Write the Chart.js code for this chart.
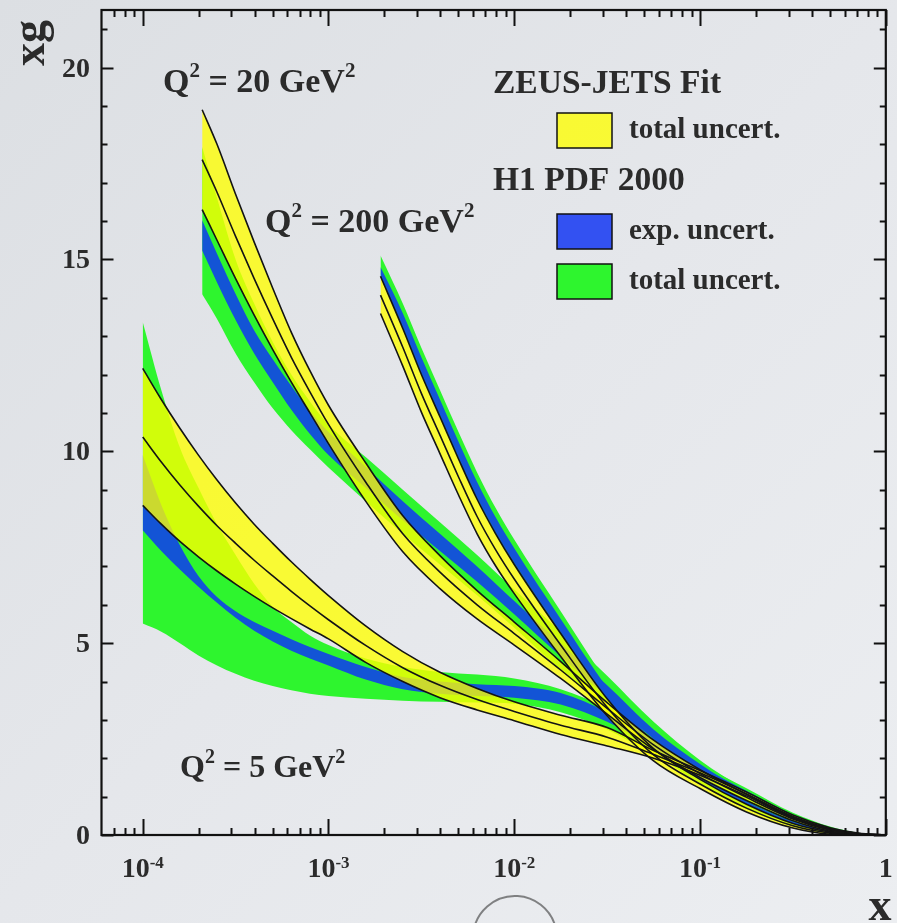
<!DOCTYPE html>
<html>
<head>
<meta charset="utf-8">
<title>xg</title>
<script src="https://cdn.jsdelivr.net/npm/chart.js@4/dist/chart.umd.min.js"></script>
<style>
html, body { margin: 0; padding: 0; }
body {
    width: 897px;
    height: 923px;
    overflow: hidden;
    background: linear-gradient(135deg, #dcdfe3 0%, #e5e7eb 50%, #eceef1 100%);
}
canvas { display: block; }
</style>
</head>
<body>
<canvas id="chart" width="897" height="923"></canvas>
<script>
'use strict';

// ---- data: log10(x) grids and xg curves for each Q2 ----

var lx5 = [-4, -3.9, -3.8, -3.7, -3.6, -3.5, -3.4, -3.3, -3.2, -3.1, -3.0, -2.8, -2.6, -2.4, -2.2, -2.0, -1.75, -1.5, -1.25, -1.0, -0.75, -0.5, -0.3, -0.15, 0];
var zeusUp5 = [12.16, 11.35, 10.6, 9.9, 9.25, 8.65, 8.1, 7.6, 7.12, 6.67, 6.24, 5.45, 4.78, 4.24, 3.82, 3.47, 3.12, 2.8, 2.2, 1.68, 1.12, 0.52, 0.19, 0.05, 0];
var zeusMid5 = [10.37, 9.72, 9.12, 8.57, 8.06, 7.6, 7.16, 6.75, 6.35, 5.97, 5.61, 4.94, 4.36, 3.9, 3.53, 3.22, 2.86, 2.55, 2.1, 1.62, 1.07, 0.48, 0.16, 0.04, 0];
var zeusLow5 = [8.59, 8.1, 7.65, 7.25, 6.88, 6.54, 6.22, 5.92, 5.64, 5.37, 5.11, 4.5, 4.0, 3.58, 3.26, 2.98, 2.62, 2.32, 2.0, 1.56, 1.02, 0.44, 0.13, 0.03, 0];
var h1TotUp5 = [13.37, 11.6, 10.1, 9.05, 8.1, 7.3, 6.55, 5.95, 5.55, 5.2, 4.95, 4.6, 4.38, 4.25, 4.18, 4.08, 3.8, 3.3, 2.55, 1.85, 1.22, 0.58, 0.22, 0.06, 0];
var h1ExpUp5 = [9.9, 8.6, 7.55, 6.75, 6.2, 5.83, 5.55, 5.32, 5.1, 4.9, 4.72, 4.38, 4.12, 4.0, 3.93, 3.88, 3.7, 3.2, 2.5, 1.8, 1.15, 0.53, 0.18, 0.05, 0];
var h1ExpLow5 = [7.94, 7.4, 6.92, 6.47, 6.05, 5.66, 5.32, 5.04, 4.8, 4.6, 4.42, 4.05, 3.8, 3.68, 3.62, 3.58, 3.4, 2.95, 2.3, 1.65, 1.05, 0.45, 0.14, 0.03, 0];
var h1TotLow5 = [5.51, 5.3, 5.0, 4.68, 4.42, 4.2, 4.02, 3.88, 3.77, 3.68, 3.62, 3.55, 3.5, 3.47, 3.45, 3.42, 3.2, 2.75, 2.1, 1.55, 0.98, 0.4, 0.12, 0.02, 0];

var lx20 = [-3.68, -3.6, -3.5, -3.4, -3.3, -3.2, -3.1, -3.0, -2.8, -2.6, -2.4, -2.2, -2.0, -1.75, -1.5, -1.25, -1.0, -0.75, -0.5, -0.3, -0.15, 0];
var zeusUp20 = [18.9, 18.0, 16.7, 15.45, 14.25, 13.1, 12.1, 11.2, 9.7, 8.32, 7.28, 6.37, 5.55, 4.52, 3.45, 2.47, 1.7, 1.06, 0.47, 0.16, 0.04, 0];
var zeusMid20 = [17.6, 16.75, 15.6, 14.5, 13.45, 12.45, 11.55, 10.7, 9.2, 7.85, 6.85, 6.0, 5.25, 4.3, 3.3, 2.35, 1.6, 0.98, 0.42, 0.13, 0.03, 0];
var zeusLow20 = [16.3, 15.5, 14.5, 13.55, 12.65, 11.8, 11.0, 10.2, 8.7, 7.38, 6.42, 5.63, 4.95, 4.08, 3.15, 2.23, 1.5, 0.9, 0.37, 0.1, 0.02, 0];
var h1TotUp20 = [17.93, 16.6, 15.0, 13.85, 12.85, 12.0, 11.3, 10.7, 9.85, 9.0, 8.15, 7.3, 6.4, 5.3, 4.15, 2.95, 1.95, 1.17, 0.53, 0.19, 0.05, 0];
var h1ExpUp20 = [16.02, 15.15, 14.1, 13.15, 12.4, 11.7, 11.05, 10.5, 9.6, 8.7, 7.85, 7.0, 6.1, 5.0, 3.9, 2.75, 1.85, 1.1, 0.48, 0.16, 0.04, 0];
var h1ExpLow20 = [15.23, 14.4, 13.42, 12.55, 11.8, 11.08, 10.45, 9.9, 9.05, 8.2, 7.4, 6.6, 5.75, 4.65, 3.6, 2.5, 1.7, 0.98, 0.4, 0.12, 0.02, 0];
var h1TotLow20 = [14.09, 13.45, 12.55, 11.8, 11.12, 10.55, 10.05, 9.58, 8.7, 7.85, 7.05, 6.25, 5.4, 4.3, 3.3, 2.3, 1.6, 0.9, 0.35, 0.09, 0.01, 0];

var lx200 = [-2.72, -2.6, -2.5, -2.4, -2.3, -2.2, -2.1, -2.0, -1.75, -1.5, -1.25, -1.0, -0.75, -0.5, -0.3, -0.15, 0];
var zeusUp200 = [14.56, 13.2, 12.0, 10.9, 9.8, 8.75, 7.85, 7.05, 5.25, 3.55, 2.25, 1.45, 0.8, 0.3, 0.08, 0.02, 0];
var zeusMid200 = [14.07, 12.71, 11.51, 10.42, 9.33, 8.3, 7.43, 6.67, 4.95, 3.33, 2.09, 1.33, 0.7, 0.24, 0.05, 0.01, 0];
var zeusLow200 = [13.59, 12.22, 11.02, 9.94, 8.86, 7.85, 7.01, 6.29, 4.65, 3.11, 1.93, 1.21, 0.6, 0.18, 0.02, 0, 0];
var h1TotUp200 = [15.1, 13.85, 12.7, 11.6, 10.5, 9.45, 8.52, 7.7, 5.83, 4.0, 2.55, 1.65, 0.93, 0.38, 0.12, 0.04, 0];
var h1ExpUp200 = [14.8, 13.6, 12.45, 11.35, 10.25, 9.2, 8.28, 7.47, 5.63, 3.85, 2.45, 1.58, 0.88, 0.35, 0.1, 0.03, 0];
var h1ExpLow200 = [14.58, 13.23, 12.03, 10.93, 9.83, 8.78, 7.88, 7.08, 5.28, 3.55, 2.25, 1.45, 0.8, 0.3, 0.08, 0.02, 0];
var h1TotLow200 = [14.56, 13.2, 12.0, 10.9, 9.8, 8.75, 7.85, 7.05, 5.25, 3.5, 2.2, 1.33, 0.68, 0.22, 0.04, 0.01, 0];

// axis ticks and labels
var xMajorTicks = [1e-4, 1e-3, 1e-2, 1e-1, 1];
var xTickBase = ['10', '10', '10', '10', '1'];
var xTickExp = ['-4', '-3', '-2', '-1', ''];
var yMajorTicks = [0, 5, 10, 15, 20];

// text
var qValues = ['5', '20', '200'];
var legendHeads = ['ZEUS-JETS Fit', 'H1 PDF 2000'];
var legendItems = ['total uncert.', 'exp. uncert.', 'total uncert.'];

var X_MIN = 6e-5, X_MAX = 1, Y_MIN = 0, Y_MAX = 21.5;

var YELLOW = 'rgba(255,255,0,0.78)';
var GREEN = '#2ef52e';
var BLUE = '#1354d6';
var BLUE_KEY = '#3351f2';
var INK = '#2b2b2b';
var SERIF = '"Liberation Serif", "Times New Roman", serif';

var pts = function(lx, ys) {
    return lx.map(function(l, i) {
        return { x: Math.pow(10, l), y: ys[i] };
    });
};

var datasets = [];

// filled band: lower edge dataset followed by upper edge filled down to it
var addBand = function(label, lx, lo, hi, color, order) {
    datasets.push({
        label: label + ' lo', data: pts(lx, lo), order: order,
        borderWidth: 0, borderColor: 'rgba(0,0,0,0)', fill: false
    });
    datasets.push({
        label: label + ' hi', data: pts(lx, hi), order: order,
        borderWidth: 0, borderColor: 'rgba(0,0,0,0)', fill: '-1', backgroundColor: color
    });
};

var addLine = function(label, lx, ys) {
    datasets.push({
        label: label, data: pts(lx, ys), order: 10,
        borderWidth: 1.6, borderColor: '#141414', fill: false
    });
};

// H1 total, then H1 experimental, then ZEUS band on top
addBand('H1 tot 5', lx5, h1TotLow5, h1TotUp5, GREEN, 40);
addBand('H1 tot 20', lx20, h1TotLow20, h1TotUp20, GREEN, 40);
addBand('H1 tot 200', lx200, h1TotLow200, h1TotUp200, GREEN, 40);
addBand('H1 exp 5', lx5, h1ExpLow5, h1ExpUp5, BLUE, 30);
addBand('H1 exp 20', lx20, h1ExpLow20, h1ExpUp20, BLUE, 30);
addBand('H1 exp 200', lx200, h1ExpLow200, h1ExpUp200, BLUE, 30);
addBand('ZEUS 5', lx5, zeusLow5, zeusUp5, YELLOW, 20);
addBand('ZEUS 20', lx20, zeusLow20, zeusUp20, YELLOW, 20);
addBand('ZEUS 200', lx200, zeusLow200, zeusUp200, YELLOW, 20);

addLine('ZEUS 5 up', lx5, zeusUp5);
addLine('ZEUS 5', lx5, zeusMid5);
addLine('ZEUS 5 low', lx5, zeusLow5);
addLine('ZEUS 20 up', lx20, zeusUp20);
addLine('ZEUS 20', lx20, zeusMid20);
addLine('ZEUS 20 low', lx20, zeusLow20);
addLine('ZEUS 200 up', lx200, zeusUp200);
addLine('ZEUS 200', lx200, zeusMid200);
addLine('ZEUS 200 low', lx200, zeusLow200);

var font = function(size) {
    return 'bold ' + size + 'px ' + SERIF;
};

// text runs, every second piece is a superscript
var drawRich = function(ctx, x, y, parts, size, raise) {
    parts.forEach(function(p, i) {
        var sup = i % 2 === 1;
        ctx.font = font(sup ? Math.round(size * 0.62) : size);
        ctx.fillText(p, x, sup ? y - raise : y);
        x += ctx.measureText(p).width;
    });
};

var richWidth = function(ctx, parts, size) {
    var w = 0;
    parts.forEach(function(p, i) {
        ctx.font = font(i % 2 === 1 ? Math.round(size * 0.62) : size);
        w += ctx.measureText(p).width;
    });
    return w;
};

var framePlugin = {
    id: 'frame',
    afterDraw: function(chart) {
        var ctx = chart.ctx;
        var a = chart.chartArea;
        var sx = chart.scales.x;
        var sy = chart.scales.y;
        var k, m, v, px, py, len;

        ctx.save();
        ctx.strokeStyle = '#111';
        ctx.lineWidth = 2.2;
        ctx.strokeRect(a.left, a.top, a.right - a.left, a.bottom - a.top);

        // y ticks on both sides, pointing inward
        ctx.lineWidth = 2;
        ctx.beginPath();
        for (v = 0; v <= Y_MAX; v++) {
            py = Math.round(sy.getPixelForValue(v)) + 0.5;
            len = v % 5 === 0 ? 12 : 6;
            ctx.moveTo(a.left, py);
            ctx.lineTo(a.left + len, py);
            ctx.moveTo(a.right, py);
            ctx.lineTo(a.right - len, py);
        }
        // x ticks top and bottom
        for (k = -5; k <= 0; k++) {
            for (m = 1; m <= 9; m++) {
                v = m * Math.pow(10, k);
                if (v <= X_MIN * 1.001 || v > X_MAX * 1.001) continue;
                px = Math.round(sx.getPixelForValue(v)) + 0.5;
                len = m === 1 ? 16 : 7;
                ctx.moveTo(px, a.bottom);
                ctx.lineTo(px, a.bottom - len);
                ctx.moveTo(px, a.top);
                ctx.lineTo(px, a.top + len);
            }
        }
        ctx.stroke();

        ctx.fillStyle = INK;
        ctx.textBaseline = 'alphabetic';

        // y tick labels
        ctx.font = font(28);
        ctx.textAlign = 'right';
        yMajorTicks.forEach(function(t) {
            ctx.fillText(String(t), a.left - 11.5, sy.getPixelForValue(t) + 9);
        });

        // x tick labels, 10 with exponent
        ctx.textAlign = 'left';
        xMajorTicks.forEach(function(t, j) {
            var parts = xTickExp[j] ? [xTickBase[j], xTickExp[j]] : [xTickBase[j]];
            var w = richWidth(ctx, parts, 28);
            drawRich(ctx, sx.getPixelForValue(t) - w / 2, a.bottom + 42, parts, 28, 9);
        });

        // axis titles
        ctx.font = font(46);
        ctx.textAlign = 'center';
        ctx.fillText('x', 880, 920);
        ctx.save();
        ctx.translate(44, 43);
        ctx.rotate(-Math.PI / 2);
        ctx.fillText('xg', 0, 0);
        ctx.restore();

        // Q2 labels
        ctx.textAlign = 'left';
        var qPos = [[180, 777, 32], [163, 92, 34], [265, 232, 34]];
        qValues.forEach(function(q, j) {
            var s = qPos[j][2];
            drawRich(ctx, qPos[j][0], qPos[j][1], ['Q', '2', ' = ' + q + ' GeV', '2'], s, s * 0.45);
        });

        // legend
        ctx.font = font(33.5);
        ctx.fillText(legendHeads[0], 493, 93);
        ctx.fillText(legendHeads[1], 493, 190);
        var keys = [[YELLOW, 113], [BLUE_KEY, 214], [GREEN, 264]];
        ctx.font = font(29);
        keys.forEach(function(kc, j) {
            ctx.fillStyle = kc[0];
            ctx.fillRect(557, kc[1], 55, 35);
            ctx.strokeStyle = '#111';
            ctx.lineWidth = 1.5;
            ctx.strokeRect(557, kc[1], 55, 35);
            ctx.fillStyle = INK;
            ctx.fillText(legendItems[j], 629, kc[1] + 25);
        });

        // round button outline at the foot of the page
        ctx.strokeStyle = 'rgba(40,40,40,0.55)';
        ctx.lineWidth = 2;
        ctx.beginPath();
        ctx.arc(515, 938, 42, Math.PI * 1.02, Math.PI * 1.9);
        ctx.stroke();

        ctx.restore();
    }
};

var chart = new Chart(document.getElementById('chart'), {
    type: 'line',
    data: { datasets: datasets },
    options: {
        responsive: false,
        animation: false,
        devicePixelRatio: 1,
        events: [],
        layout: { padding: { left: 101.5, right: 11.2, top: 10, bottom: 88 } },
        elements: {
            line: { cubicInterpolationMode: 'monotone', borderJoinStyle: 'round' },
            point: { radius: 0 }
        },
        plugins: {
            legend: { display: false },
            tooltip: { enabled: false },
            filler: { propagate: false }
        },
        scales: {
            x: { type: 'logarithmic', min: X_MIN, max: X_MAX, display: false },
            y: { type: 'linear', min: Y_MIN, max: Y_MAX, display: false }
        }
    },
    plugins: [framePlugin]
});
</script>
</body>
</html>
